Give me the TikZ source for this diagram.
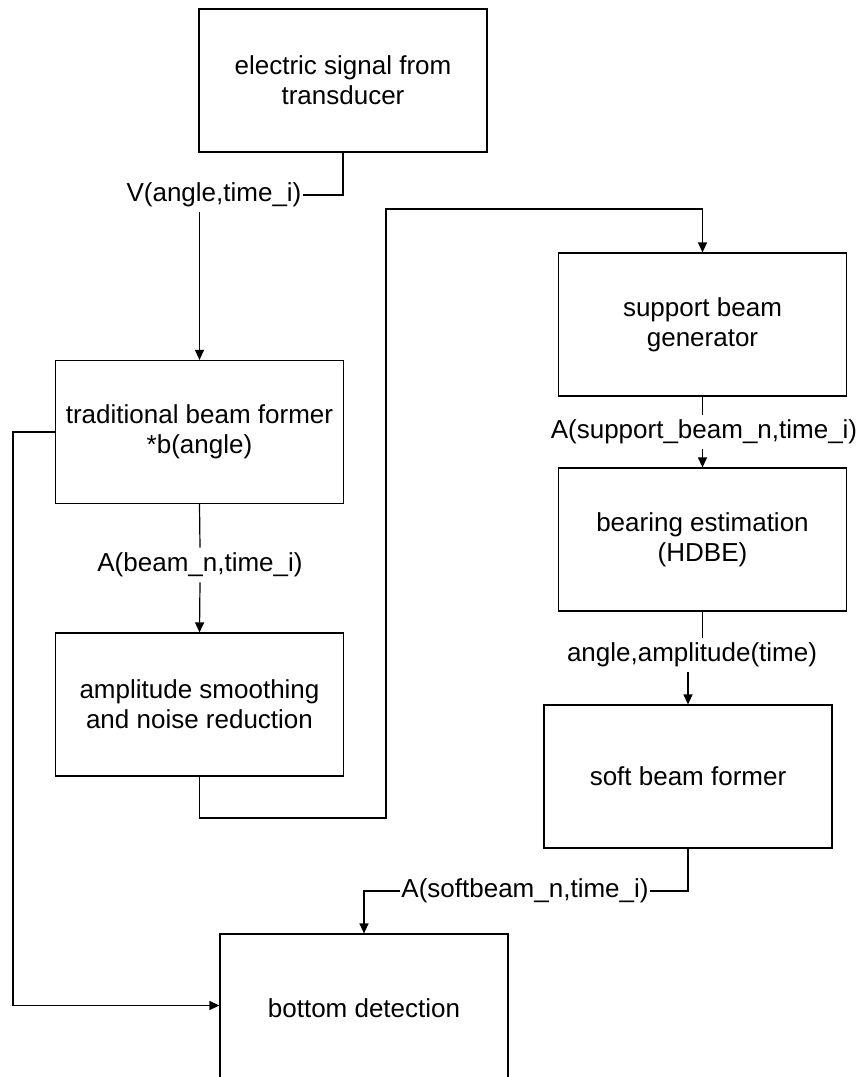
\documentclass[tikz,border=0pt]{standalone}
\usepackage{fontspec}
\setmainfont{Liberation Sans}
\usetikzlibrary{arrows.meta}
\begin{document}
\begin{tikzpicture}[x=1pt,y=-1pt,
  blk/.style={draw, line width=1.2pt, minimum width=288pt, minimum height=143pt, align=center,
    font=\fontsize{26}{30}\selectfont, inner sep=0pt},
  lbl/.style={font=\fontsize{26}{30}\selectfont, inner xsep=1pt, inner ysep=5pt},
  conn/.style={line width=1.2pt},
  arr/.style={conn, -{Triangle[length=10pt,width=9pt]}}]
\useasboundingbox (0,0) rectangle (863,1077);

\node[blk] (b1) at (343,80.5) {electric signal from\\transducer};
\node[blk] (b2) at (199.5,432) {traditional beam former\\*b(angle)};
\node[blk] (b3) at (199.5,704.5) {amplitude smoothing\\and noise reduction};
\node[blk] (b4) at (702.5,324.5) {support beam\\generator};
\node[blk] (b5) at (702.5,539.5) {bearing estimation\\(HDBE)};
\node[blk] (b6) at (688,776.5) {soft beam former};
\node[blk, minimum height=148pt] (b7) at (364,1008) {bottom detection};

\node[lbl] (l1) at (214,195) {V(angle,time\_i)};
\node[lbl] (l2) at (200,565) {A(beam\_n,time\_i)};
\node[lbl] (l3) at (704,432) {A(support\_beam\_n,time\_i)};
\node[lbl] (l4) at (692,655) {angle,amplitude(time)};
\node[lbl] (l5) at (525,891) {A(softbeam\_n,time\_i)};

\coordinate (c1) at (386,818);
\coordinate (c2) at (386,209);
\coordinate (f1) at (13,432);
\coordinate (f2) at (13,1005.5);

% box1 -> box2
\draw[conn] (b1.south) |- (l1.east);
\draw[arr] (l1.south -| b2.north) -- (b2.north);
% box2 -> box3
\draw[conn] (b2.south) -- (l2.north);
\draw[arr] (l2.south) -- (b3.north);
% box3 -> box4
\draw[arr] (b3.south) |- (c1) -- (c2) -| (b4.north);
% box4 -> box5
\draw[conn] (b4.south) -- (b4.south |- l3.north);
\draw[arr] (l3.south -| b5.north) -- (b5.north);
% box5 -> box6
\draw[conn] (b5.south) -- (b5.south |- l4.north);
\draw[arr] (l4.south -| b6.north) -- (b6.north);
% box6 -> box7
\draw[conn] (b6.south) |- (l5.east);
\draw[arr] (l5.west) -| (b7.north);
% box2 -> box7 feedback
\draw[arr] (b2.west) -- (f1) -- (f2) -- (b7.west |- f2);
\end{tikzpicture}
\end{document}
